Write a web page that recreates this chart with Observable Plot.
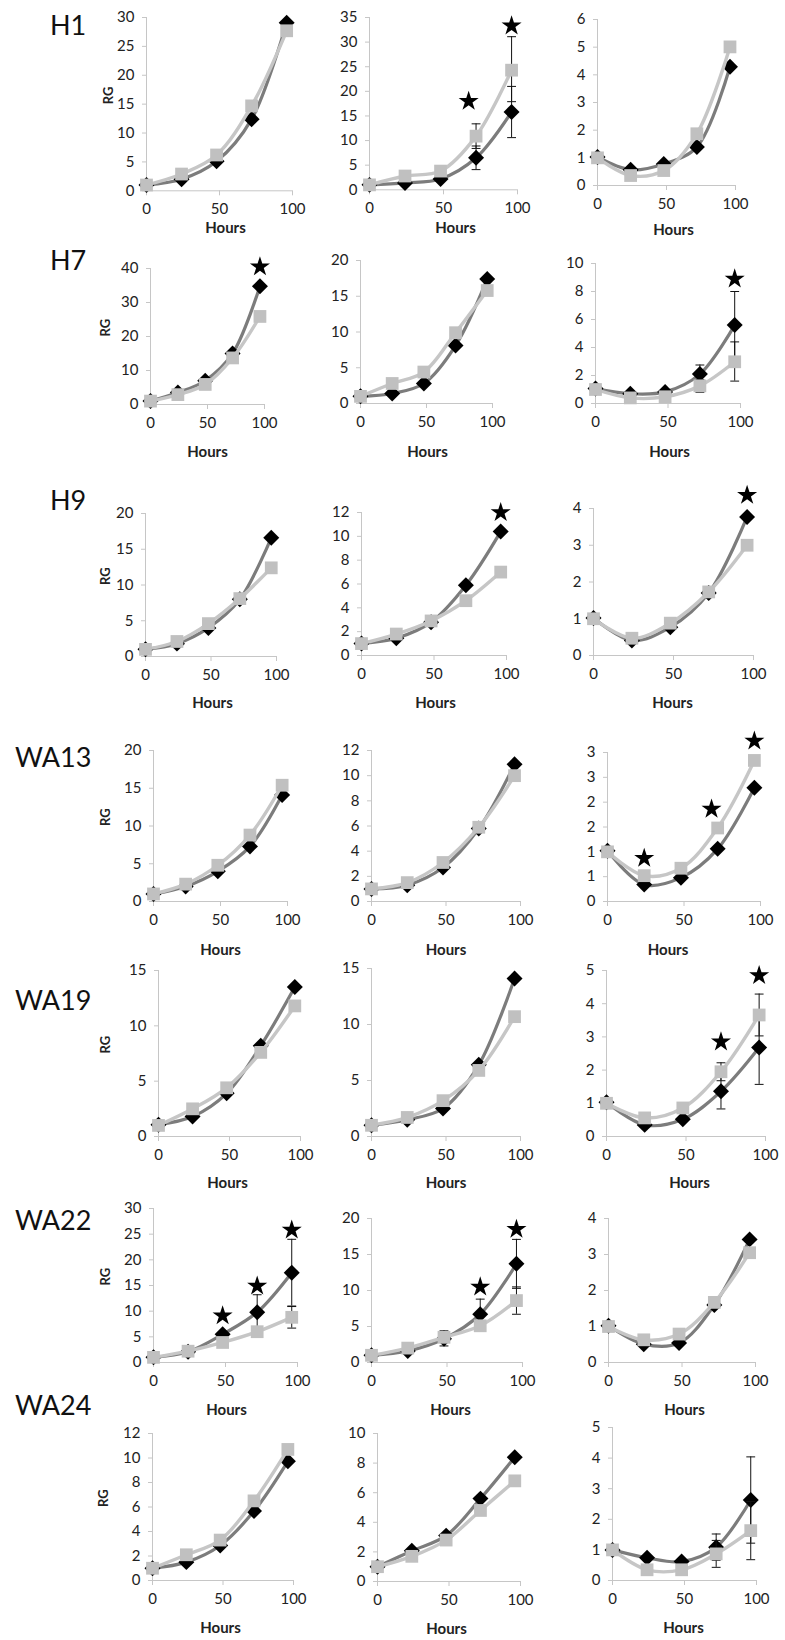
<!DOCTYPE html>
<html><head><meta charset="utf-8">
<script src="https://cdn.jsdelivr.net/npm/d3@7"></script>
<script src="https://cdn.jsdelivr.net/npm/@observablehq/plot@0.6"></script>
<style>
html,body{margin:0;padding:0;background:#fff;}
#chart{position:relative;width:785px;height:1640px;overflow:hidden;font-family:Lato,"Open Sans",sans-serif;background:#fff;}
.rowlabel{position:absolute;font-size:27px;color:#111;line-height:1;white-space:nowrap;}
</style></head><body><div id="chart"></div>
<script>
// ---------- DATA ----------
const hours = [0, 24, 48, 72, 96];
const xTicks = [0, 50, 100];
const cellLines = ["H1", "H7", "H9", "WA13", "WA19", "WA22", "WA24"];

// dark series (black diamonds), three panels per cell line
const H1_dark   = [[1, 2.0, 5.1, 12.4, 29.1], [1, 1.4, 2.2, 6.5, 15.8], [1.03, 0.57, 0.78, 1.39, 4.29]];
const H7_dark   = [[1, 3.5, 7.0, 15.0, 34.8], [1, 1.4, 2.8, 8.1, 17.4], [1.07, 0.7, 0.83, 2.1, 5.6]];
const H9_dark   = [[1, 1.8, 4.0, 8.0, 16.6], [1, 1.45, 2.8, 5.9, 10.4], [1.02, 0.41, 0.77, 1.7, 3.77]];
const WA13_dark = [[1, 2.0, 4.0, 7.3, 14.1], [1, 1.3, 2.7, 5.8, 10.9], [1.02, 0.34, 0.48, 1.06, 2.29]];
const WA19_dark = [[1.06, 1.8, 3.9, 8.2, 13.5], [1, 1.5, 2.5, 6.4, 14.1], [1.03, 0.35, 0.52, 1.36, 2.68]];
const WA22_dark = [[1, 2.1, 5.5, 9.8, 17.5], [1, 1.6, 3.3, 6.7, 13.7], [1.02, 0.51, 0.54, 1.6, 3.42]];
const WA24_dark = [[1, 1.5, 2.86, 5.67, 9.73], [1, 2.07, 3.1, 5.6, 8.4], [1.0, 0.74, 0.62, 1.09, 2.63]];

// light series (grey squares)
const H1_light   = [[1, 2.9, 6.2, 14.7, 27.7], [1, 2.8, 3.8, 10.9, 24.3], [1, 0.36, 0.54, 1.87, 5.01]];
const H7_light   = [[1, 2.9, 5.9, 13.7, 25.9], [1, 2.8, 4.4, 9.9, 15.8], [1, 0.4, 0.48, 1.26, 2.98]];
const H9_light   = [[1, 2.1, 4.6, 8.1, 12.4], [1, 1.8, 2.9, 4.6, 7.0], [1, 0.47, 0.88, 1.73, 3.0]];
const WA13_light = [[1, 2.3, 4.8, 8.8, 15.4], [1, 1.5, 3.1, 5.9, 10.0], [1, 0.52, 0.67, 1.48, 2.84]];
const WA19_light = [[1, 2.5, 4.4, 7.6, 11.8], [1, 1.7, 3.2, 5.9, 10.7], [1, 0.56, 0.86, 1.95, 3.66]];
const WA22_light = [[1, 2.2, 3.9, 6.0, 8.8], [1, 2.0, 3.5, 5.1, 8.6], [1, 0.63, 0.79, 1.67, 3.05]];
const WA24_light = [[1, 2.1, 3.3, 6.5, 10.7], [1, 1.7, 2.8, 4.8, 6.8], [1, 0.35, 0.35, 0.87, 1.63]];

// y axis maximum and tick step per panel
const yMaxByRow  = [[30, 35, 6], [40, 20, 10], [20, 12, 4], [20, 12, 3], [15, 15, 5], [30, 20, 4], [12, 10, 5]];
const yStepByRow = [[5, 5, 1], [10, 5, 2], [5, 2, 1], [5, 2, 0.5], [5, 5, 1], [5, 5, 1], [2, 2, 1]];
// WA13 third panel: Excel rounded tick labels
const wa13Panel3TickLabels = ["0", "1", "1", "2", "2", "3", "3"];

// error bars
const errorBars = [
  {line: "H1", panel: 1, series: "dark", hour: 72, lo: 4.1, hi: 8.9},
  {line: "H1", panel: 1, series: "light", hour: 72, lo: 8.4, hi: 13.4},
  {line: "H1", panel: 1, series: "dark", hour: 96, lo: 10.6, hi: 21.0},
  {line: "H1", panel: 1, series: "light", hour: 96, lo: 17.9, hi: 31.1},
  {line: "H7", panel: 2, series: "dark", hour: 72, lo: 1.45, hi: 2.75},
  {line: "H7", panel: 2, series: "light", hour: 72, lo: 0.8, hi: 1.7},
  {line: "H7", panel: 2, series: "dark", hour: 96, lo: 3.2, hi: 8.0},
  {line: "H7", panel: 2, series: "light", hour: 96, lo: 1.6, hi: 4.4},
  {line: "WA19", panel: 2, series: "dark", hour: 72, lo: 0.83, hi: 1.89},
  {line: "WA19", panel: 2, series: "light", hour: 72, lo: 1.68, hi: 2.22},
  {line: "WA19", panel: 2, series: "dark", hour: 96, lo: 1.57, hi: 3.79},
  {line: "WA19", panel: 2, series: "light", hour: 96, lo: 3.03, hi: 4.29},
  {line: "WA22", panel: 0, series: "dark", hour: 72, lo: 6.4, hi: 13.2},
  {line: "WA22", panel: 0, series: "dark", hour: 96, lo: 11.0, hi: 24.0},
  {line: "WA22", panel: 0, series: "light", hour: 96, lo: 6.7, hi: 10.9},
  {line: "WA22", panel: 1, series: "dark", hour: 48, lo: 2.3, hi: 4.4},
  {line: "WA22", panel: 1, series: "dark", hour: 72, lo: 4.6, hi: 8.8},
  {line: "WA22", panel: 1, series: "dark", hour: 96, lo: 10.3, hi: 17.1},
  {line: "WA22", panel: 1, series: "light", hour: 96, lo: 6.7, hi: 10.5},
  {line: "WA24", panel: 2, series: "dark", hour: 72, lo: 0.66, hi: 1.52},
  {line: "WA24", panel: 2, series: "light", hour: 72, lo: 0.43, hi: 1.31},
  {line: "WA24", panel: 2, series: "dark", hour: 96, lo: 1.22, hi: 4.04},
  {line: "WA24", panel: 2, series: "light", hour: 96, lo: 0.68, hi: 2.58}
];

// significance stars
const stars = [
  {line: "H1", panel: 1, hour: 67, value: 18.0},
  {line: "H1", panel: 1, hour: 96, value: 33.3},
  {line: "H7", panel: 0, hour: 96, value: 40.5},
  {line: "H7", panel: 2, hour: 96, value: 8.9},
  {line: "H9", panel: 1, hour: 96, value: 12.0},
  {line: "H9", panel: 2, hour: 96, value: 4.36},
  {line: "WA13", panel: 2, hour: 24, value: 0.87},
  {line: "WA13", panel: 2, hour: 68, value: 1.86},
  {line: "WA13", panel: 2, hour: 96, value: 3.23},
  {line: "WA19", panel: 2, hour: 72, value: 2.85},
  {line: "WA19", panel: 2, hour: 96, value: 4.85},
  {line: "WA22", panel: 0, hour: 48, value: 9.1},
  {line: "WA22", panel: 0, hour: 72, value: 14.9},
  {line: "WA22", panel: 0, hour: 96, value: 25.8},
  {line: "WA22", panel: 1, hour: 72, value: 10.5},
  {line: "WA22", panel: 1, hour: 96, value: 18.5}
];

const darkSeries = {H1: H1_dark, H7: H7_dark, H9: H9_dark, WA13: WA13_dark, WA19: WA19_dark, WA22: WA22_dark, WA24: WA24_dark};
const lightSeries = {H1: H1_light, H7: H7_light, H9: H9_light, WA13: WA13_light, WA19: WA19_light, WA22: WA22_light, WA24: WA24_light};

// ---------- LAYOUT (pixels) ----------
// [x of 0 h, x of 100 h, y of axis max, y of 0]
const frames = [
  [[146, 292, 16.7, 190], [369, 517, 16.7, 189], [597, 735, 19, 185]],
  [[150, 264, 268, 404], [360, 492, 260, 403], [595, 740, 263, 403]],
  [[145, 276, 513, 656], [361, 506, 512, 655], [593, 753, 508, 655]],
  [[153, 287, 750, 901], [371, 520, 750, 901], [607, 760, 752, 901]],
  [[158, 300, 970, 1136], [371, 520, 968, 1136], [606, 765, 970, 1136]],
  [[153, 297, 1208, 1362], [371, 522, 1218, 1362], [608, 755, 1218, 1362]],
  [[152, 293, 1433, 1580], [377, 520, 1433, 1581], [612, 756, 1427, 1580]]
];
const hoursShift = [
  [[6, 37], [12, 38], [7, 45]],
  [[0, 48], [1, 49], [1.5, 49]],
  [[1.5, 47], [1.5, 48], [-1, 48]],
  [[0, 49], [0, 49], [-16, 49]],
  [[-2, 47], [0, 47], [3.5, 47]],
  [[1, 48], [3.5, 48], [2.5, 48]],
  [[-2.5, 48], [-2.5, 48], [-1, 48]]
];
const rgX = [108, 105, 105, 105, 105, 105, 103];
const rowLabelPos = [[50, 25], [50, 260], [50, 500], [15, 757], [15, 1000], [15, 1220], [15, 1405]];

const axisColor = "#c6c6c6";
const darkLine = "#7c7c7c", lightLine = "#c6c6c6", lightMarker = "#c0c0c0";
const mL = 70, mR = 26, mT = 32, mB = 62;

const capSymbol = {draw(ctx, size) { const w = Math.sqrt(size) / 2; ctx.moveTo(-w, 0); ctx.lineTo(w, 0); }};

const chart = document.getElementById("chart");

cellLines.forEach((name, r) => {
  const lab = document.createElement("div");
  lab.className = "rowlabel";
  lab.textContent = name;
  lab.style.left = rowLabelPos[r][0] + "px";
  lab.style.top = (rowLabelPos[r][1] - 14) + "px";
  chart.appendChild(lab);

  for (let p = 0; p < 3; p++) {
    const [x0, x100, yT, y0] = frames[r][p];
    const width = (x100 - x0) + mL + mR;
    const height = (y0 - yT) + mT + mB;
    const ymax = yMaxByRow[r][p], step = yStepByRow[r][p];
    const yTicks = d3.range(0, ymax + step / 2, step);
    const fmt = (name === "WA13" && p === 2) ? ((d, i) => wa13Panel3TickLabels[i]) : (d => String(d));
    const dark = hours.map((h, i) => ({hour: h, value: darkSeries[name][p][i]}));
    const light = hours.map((h, i) => ({hour: h, value: lightSeries[name][p][i]}));
    const eb = errorBars.filter(e => e.line === name && e.panel === p);
    const ebDark = eb.filter(e => e.series === "dark");
    const ebLight = eb.filter(e => e.series === "light");
    const caps = arr => arr.flatMap(e => [{hour: e.hour, value: e.lo}, {hour: e.hour, value: e.hi}]);
    const st = stars.filter(s => s.line === name && s.panel === p);
    const [hdx, hdy] = hoursShift[r][p];

    const marks = [
      Plot.ruleX([0], {stroke: axisColor, strokeWidth: 1}),
      Plot.ruleY([0], {stroke: axisColor, strokeWidth: 1}),
      Plot.axisY({ticks: yTicks, tickFormat: fmt, tickSize: 4, tickPadding: 8, stroke: axisColor, fill: "#222", label: null}),
      Plot.axisX({ticks: xTicks, tickSize: 5, tickPadding: 8, stroke: axisColor, fill: "#222", label: null}),
      Plot.line(dark, {x: "hour", y: "value", curve: "catmull-rom", stroke: darkLine, strokeWidth: 3.2}),
      Plot.ruleX(ebDark, {x: "hour", y1: "lo", y2: "hi", stroke: "#111", strokeWidth: 1}),
      Plot.dot(caps(ebDark), {x: "hour", y: "value", symbol: capSymbol, r: 5, fill: "none", stroke: "#111", strokeWidth: 1}),
      Plot.dot(dark, {x: "hour", y: "value", symbol: "diamond2", r: 7.2, fill: "#000", stroke: "none"}),
      Plot.line(light, {x: "hour", y: "value", curve: "catmull-rom", stroke: lightLine, strokeWidth: 3.4}),
      Plot.ruleX(ebLight, {x: "hour", y1: "lo", y2: "hi", stroke: "#111", strokeWidth: 1}),
      Plot.dot(caps(ebLight), {x: "hour", y: "value", symbol: capSymbol, r: 5, fill: "none", stroke: "#111", strokeWidth: 1}),
      Plot.dot(light, {x: "hour", y: "value", symbol: "square", r: 7.2, fill: lightMarker, stroke: "none"}),
      Plot.dot(st, {x: "hour", y: "value", symbol: "star", r: 6.3, fill: "#000", stroke: "none"}),
      Plot.text(["Hours"], {text: d => d, frameAnchor: "bottom", dx: hdx, dy: hdy, lineAnchor: "middle", fontWeight: "bold", fontSize: 15, fill: "#222"})
    ];
    if (p === 0) {
      marks.push(Plot.text(["RG"], {text: d => d, frameAnchor: "left", rotate: -90, dx: rgX[r] - x0, fontWeight: "bold", fontSize: 13, fill: "#222"}));
    }

    const svg = Plot.plot({
      width, height,
      marginLeft: mL, marginRight: mR, marginTop: mT, marginBottom: mB,
      x: {domain: [0, 100]},
      y: {domain: [0, ymax]},
      style: {fontFamily: "Lato, 'Open Sans', sans-serif", fontSize: "15px", background: "transparent", overflow: "visible", color: "#222"},
      marks
    });
    svg.style.position = "absolute";
    svg.style.left = (x0 - mL) + "px";
    svg.style.top = (yT - mT) + "px";
    chart.appendChild(svg);
  }
});
</script></body></html>
